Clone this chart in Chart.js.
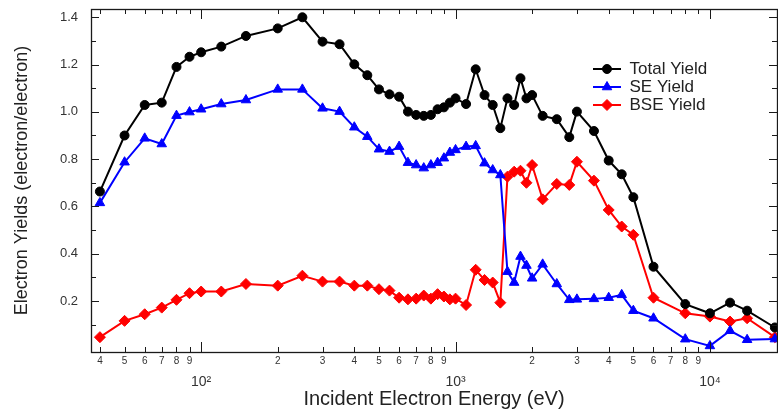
<!DOCTYPE html>
<html lang="en">
<head>
<meta charset="UTF-8">
<title>Electron Yields vs Incident Energy</title>
<script src="https://cdn.jsdelivr.net/npm/chart.js@4.4.0/dist/chart.umd.min.js"></script>
<style>
  html, body { margin: 0; padding: 0; background: #fff; }
</style>
</head>
<body>
<canvas id="yieldChart" width="778" height="409"></canvas>
<script>
// incident beam energies (eV), shared by all three curves
const energies = [40, 50, 60, 70, 80, 90, 100, 120, 150, 200, 250, 300, 350, 400, 450, 500, 550, 600, 650, 700,
  750, 800, 850, 900, 950, 1000, 1100, 1200, 1300, 1400, 1500, 1600, 1700, 1800, 1900, 2000, 2200, 2500, 2800,
  3000, 3500, 4000, 4500, 5000, 6000, 8000, 10000, 12000, 14000, 18000];

const totalYield = [0.663, 0.90, 1.029, 1.039, 1.19, 1.233, 1.252, 1.276, 1.321, 1.353, 1.40, 1.297, 1.286, 1.201,
  1.155, 1.095, 1.074, 1.064, 1.001, 0.987, 0.983, 0.987, 1.011, 1.019, 1.039, 1.057, 1.033, 1.18, 1.071, 1.029,
  0.931, 1.057, 1.029, 1.142, 1.057, 1.071, 0.983, 0.969, 0.893, 1.001, 0.919, 0.794, 0.736, 0.639, 0.345, 0.187,
  0.148, 0.193, 0.159, 0.088];

const seYield = [0.615, 0.787, 0.888, 0.864, 0.984, 0.999, 1.011, 1.033, 1.05, 1.095, 1.095, 1.015, 1.001, 0.935,
  0.895, 0.842, 0.832, 0.853, 0.785, 0.775, 0.762, 0.775, 0.785, 0.804, 0.828, 0.839, 0.853, 0.856, 0.783, 0.754,
  0.733, 0.324, 0.278, 0.388, 0.35, 0.296, 0.355, 0.272, 0.205, 0.207, 0.209, 0.214, 0.226, 0.159, 0.127, 0.0385,
  0.01, 0.074, 0.036, 0.039];

const bseYield = [0.047, 0.116, 0.144, 0.172, 0.205, 0.233, 0.24, 0.24, 0.272, 0.265, 0.307, 0.282, 0.282, 0.265,
  0.265, 0.25, 0.244, 0.214, 0.207, 0.21, 0.223, 0.21, 0.229, 0.219, 0.207, 0.21, 0.183, 0.332, 0.289, 0.278,
  0.193, 0.726, 0.747, 0.751, 0.70, 0.775, 0.63, 0.695, 0.691, 0.789, 0.709, 0.585, 0.515, 0.48, 0.214, 0.148,
  0.134, 0.113, 0.127, 0.047];

// axis ticks
const xTicks = [40, 50, 60, 70, 80, 90, 100, 200, 300, 400, 500, 600, 700, 800, 900, 1000,
  2000, 3000, 4000, 5000, 6000, 7000, 8000, 9000, 10000];
const yTicks = [0.1, 0.2, 0.3, 0.4, 0.5, 0.6, 0.7, 0.8, 0.9, 1.0, 1.1, 1.2, 1.3, 1.4];
const yLabels = ['0.2', '0.4', '0.6', '0.8', '1.0', '1.2', '1.4'];
const sup = {2: '\u00b2', 3: '\u00b3', 4: '\u2074'};

const isDecade = v => Math.abs(Math.log10(v) - Math.round(Math.log10(v))) < 1e-9;

const pts = ys => energies.map((e, i) => ({x: e, y: ys[i]}));

// little "line through marker" swatches for the legend
function swatch(color, style, radius) {
  const c = document.createElement('canvas');
  c.width = 28; c.height = 14;
  const g = c.getContext('2d');
  g.strokeStyle = color;
  g.lineWidth = 2;
  g.beginPath(); g.moveTo(0, 7); g.lineTo(28, 7); g.stroke();
  g.fillStyle = color;
  g.lineWidth = 1;
  Chart.helpers.drawPoint(g, {pointStyle: style, radius: radius, borderWidth: 1, rotation: 0}, 14, 7);
  return c;
}

// inward tick marks and the box round the plot
const frameTicks = {
  id: 'frameTicks',
  afterDraw(chart) {
    const {ctx, chartArea: {left, right, top, bottom}, scales: {x, y}} = chart;
    ctx.save();
    ctx.strokeStyle = '#1a1a1a';
    ctx.lineWidth = 1;
    ctx.beginPath();
    xTicks.forEach(v => {
      const px = Math.round(x.getPixelForValue(v)) + 0.5;
      const len = isDecade(v) ? 10 : 5;
      ctx.moveTo(px, bottom); ctx.lineTo(px, bottom - len);
      ctx.moveTo(px, top); ctx.lineTo(px, top + len);
    });
    yTicks.forEach(v => {
      const py = Math.round(y.getPixelForValue(v)) + 0.5;
      const len = Math.round(v * 10) % 2 === 0 ? 8 : 5;
      ctx.moveTo(left, py); ctx.lineTo(left + len, py);
      ctx.moveTo(right, py); ctx.lineTo(right - len, py);
    });
    ctx.stroke();
    ctx.lineWidth = 1.3;
    ctx.strokeRect(left + 0.5, top + 0.5, right - left, bottom - top);
    ctx.restore();
  }
};

// park the legend inside the plot, upper right
const legendSpot = {
  id: 'legendSpot',
  afterLayout(chart) {
    const lg = chart.legend;
    const w = lg.width, h = lg.height;
    lg.left = 592; lg.top = 59.5;
    lg.right = lg.left + w; lg.bottom = lg.top + h;
  }
};

const swatches = [swatch('#000000', 'circle', 4.5), swatch('#0000ff', 'triangle', 5.5), swatch('#ff0000', 'rectRot', 5.5)];

Chart.defaults.font.family = 'Liberation Sans, Arial, sans-serif';

new Chart(document.getElementById('yieldChart'), {
  type: 'scatter',
  data: {
    datasets: [{
      label: 'Total Yield',
      data: pts(totalYield),
      borderColor: '#000000',
      backgroundColor: '#000000',
      pointStyle: 'circle',
      pointRadius: 4.5
    }, {
      label: 'SE Yield',
      data: pts(seYield),
      borderColor: '#0000ff',
      backgroundColor: '#0000ff',
      pointStyle: 'triangle',
      pointRadius: 5.5
    }, {
      label: 'BSE Yield',
      data: pts(bseYield),
      borderColor: '#ff0000',
      backgroundColor: '#ff0000',
      pointStyle: 'rectRot',
      pointRadius: 5.5
    }].map(ds => Object.assign(ds, {showLine: true, borderWidth: 2, pointBorderWidth: 1, clip: false}))
  },
  options: {
    responsive: false,
    animation: false,
    layout: {autoPadding: false, padding: {top: 9, right: 1, left: 0, bottom: 0}},
    plugins: {
      tooltip: {enabled: false},
      legend: {
        position: 'chartArea',
        align: 'start',
        labels: {
          usePointStyle: true,
          pointStyleWidth: 28,
          boxHeight: 14,
          padding: 1,
          color: '#222',
          font: {size: 17},
          generateLabels: chart => chart.data.datasets.map((ds, i) => ({
            text: ds.label,
            pointStyle: swatches[i],
            fillStyle: ds.backgroundColor,
            strokeStyle: ds.borderColor,
            lineWidth: 0,
            fontColor: '#222',
            hidden: false,
            datasetIndex: i
          }))
        }
      }
    },
    scales: {
      x: {
        type: 'logarithmic',
        min: 36.9,
        max: 18350,
        afterBuildTicks: s => { s.ticks = xTicks.map(v => ({value: v, major: false})); },
        afterFit: s => { s.height = 57; s.paddingLeft = 0; s.paddingRight = 0; },
        grid: {display: false, drawTicks: false},
        border: {display: false},
        ticks: {
          autoSkip: false,
          maxRotation: 0,
          padding: 3,
          color: '#333',
          font: c => (c.tick && isDecade(c.tick.value)) ? {size: 14, lineHeight: 1.3} : {size: 10, lineHeight: 1.2},
          callback: v => {
            if (isDecade(v)) {
              const p = Math.round(Math.log10(v));
              return ['', '10' + sup[p]];
            }
            return String(Math.round(v / Math.pow(10, Math.floor(Math.log10(v)))));
          }
        },
        title: {
          display: true,
          text: 'Incident Electron Energy (eV)',
          color: '#222',
          font: {size: 20, lineHeight: 1},
          padding: 0
        }
      },
      y: {
        min: -0.0157,
        max: 1.435,
        afterBuildTicks: s => { s.ticks = yTicks.map(v => ({value: v})); },
        afterFit: s => { s.width = 91; s.paddingTop = 0; s.paddingBottom = 0; },
        grid: {display: false, drawTicks: false},
        border: {display: false},
        ticks: {
          padding: 13,
          color: '#333',
          font: {size: 13},
          callback: v => {
            const l = v.toFixed(1);
            return yLabels.includes(l) ? l : '';
          }
        },
        title: {
          display: true,
          text: 'Electron Yields (electron/electron)',
          color: '#222',
          font: {size: 18, lineHeight: 1.2},
          padding: {top: 11, bottom: 0}
        }
      }
    }
  },
  plugins: [frameTicks, legendSpot]
});
</script>
</body>
</html>
